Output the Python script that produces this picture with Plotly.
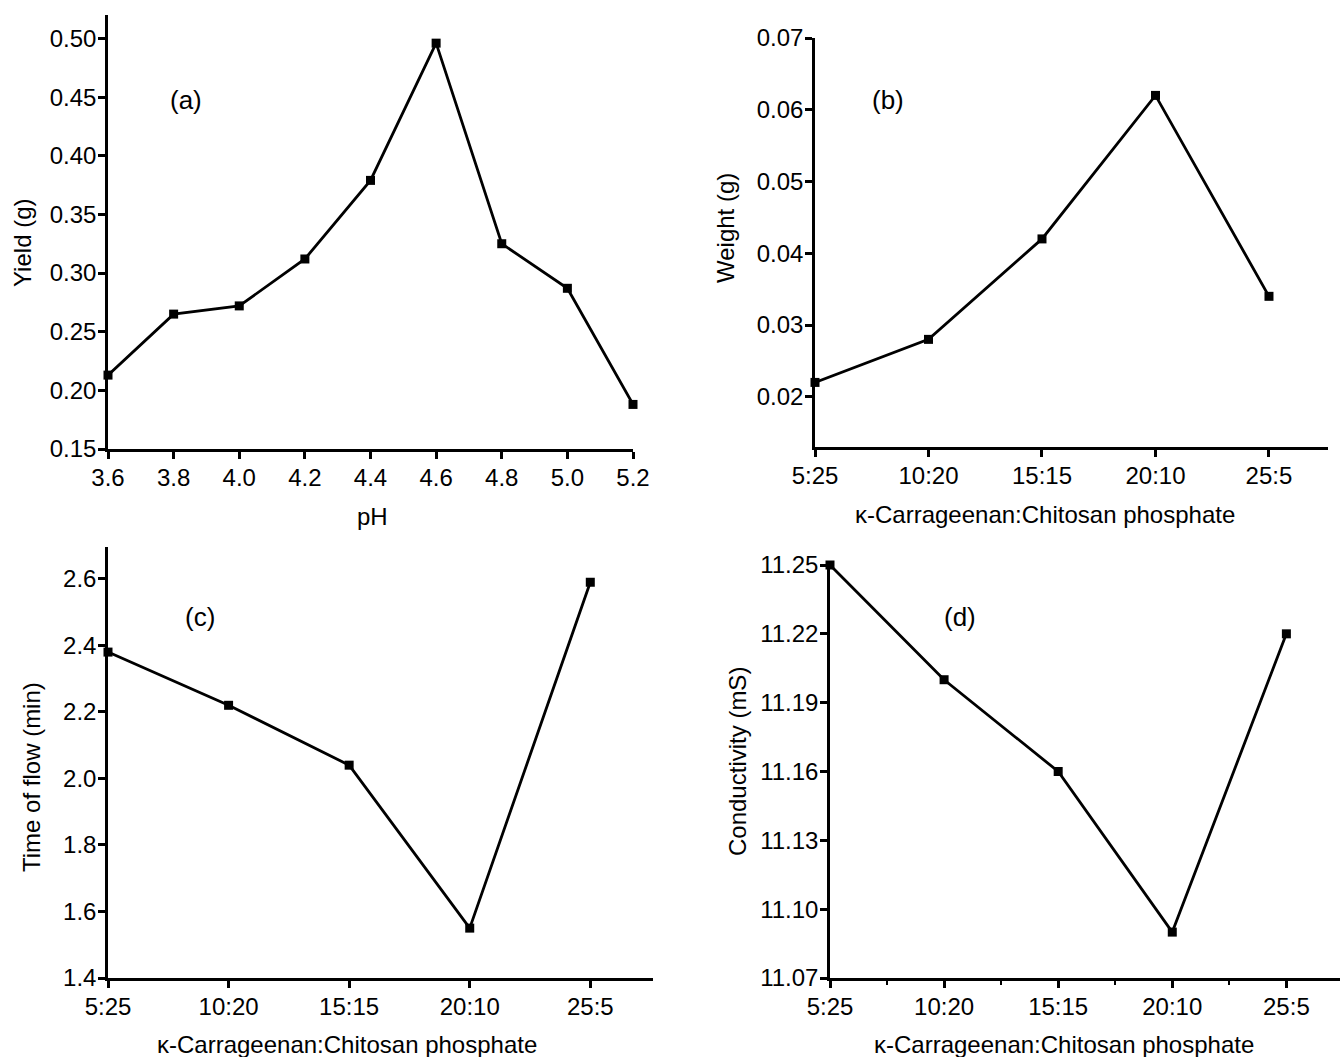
import plotly.graph_objects as go

# Data
ph_values = [3.6, 3.8, 4.0, 4.2, 4.4, 4.6, 4.8, 5.0, 5.2]
yield_g = [0.213, 0.265, 0.272, 0.312, 0.379, 0.496, 0.325, 0.287, 0.188]

ratios = ["5:25", "10:20", "15:15", "20:10", "25:5"]
weight_g = [0.022, 0.028, 0.042, 0.062, 0.034]
time_of_flow = [2.38, 2.22, 2.04, 1.55, 2.59]
conductivity = [11.25, 11.20, 11.16, 11.09, 11.22]

ph_ticks = [3.6, 3.8, 4.0, 4.2, 4.4, 4.6, 4.8, 5.0, 5.2]
weight_ticks = [0.02, 0.03, 0.04, 0.05, 0.06, 0.07]
yield_ticks = [0.15, 0.20, 0.25, 0.30, 0.35, 0.40, 0.45, 0.50]
flow_ticks = [1.4, 1.6, 1.8, 2.0, 2.2, 2.4, 2.6]
cond_ticks = [11.07, 11.10, 11.13, 11.16, 11.19, 11.22, 11.25]

W, H = 1340, 1057
FONT = "Liberation Sans, Arial, sans-serif"
FS = 24
ridx = list(range(len(ratios)))

def px(x):
    return x / W

def py(y):
    return 1 - y / H

fig = go.Figure()

line = dict(color="black", width=2.8)
marker = dict(symbol="square", size=9, color="black")

fig.add_trace(go.Scatter(x=ph_values, y=yield_g, mode="lines+markers", line=line,
                         marker=marker, xaxis="x", yaxis="y", cliponaxis=False))
fig.add_trace(go.Scatter(x=ridx, y=weight_g, mode="lines+markers", line=line,
                         marker=marker, xaxis="x2", yaxis="y2", cliponaxis=False))
fig.add_trace(go.Scatter(x=ridx, y=time_of_flow, mode="lines+markers", line=line,
                         marker=marker, xaxis="x3", yaxis="y3", cliponaxis=False))
fig.add_trace(go.Scatter(x=ridx, y=conductivity, mode="lines+markers", line=line,
                         marker=marker, xaxis="x4", yaxis="y4", cliponaxis=False))

axis_common = dict(showgrid=False, zeroline=False, showline=True, linecolor="black",
                   linewidth=2.5, ticks="outside", ticklen=7, tickwidth=2.5,
                   tickcolor="black", automargin=False,
                   tickfont=dict(family=FONT, size=FS, color="black"))

panels = [
    ((108, 633), (15, 449), [3.6, 5.2], [0.15, 0.52], ph_ticks, [f"{v:.1f}" for v in ph_ticks],
     yield_ticks, [f"{v:.2f}" for v in yield_ticks]),
    ((815, 1328), (38, 447), [0, 4.52], [0.0130, 0.070], ridx, ratios,
     weight_ticks, [f"{v:.2f}" for v in weight_ticks]),
    ((108, 653), (547, 978), [0, 4.52], [1.4, 2.696], ridx, ratios,
     flow_ticks, [f"{v:.1f}" for v in flow_ticks]),
    ((830, 1340), (565, 978), [0, 4.47], [11.07, 11.25], ridx, ratios,
     cond_ticks, [f"{v:.2f}" for v in cond_ticks]),
]

layout = dict(width=W, height=H, margin=dict(l=0, r=0, t=0, b=0),
              paper_bgcolor="white", plot_bgcolor="white", showlegend=False,
              template="none",
              font=dict(family=FONT, size=FS, color="black"))

for i, (xd, yd, xr, yr, xt, xtt, yt, ytt) in enumerate(panels):
    n = "" if i == 0 else str(i + 1)
    xa = dict(axis_common, domain=[px(xd[0]), px(xd[1])], range=xr, tickvals=xt, ticktext=xtt,
              anchor="y" + n, ticklabelstandoff=-2)
    ya = dict(axis_common, domain=[py(yd[1]), py(yd[0])], range=yr, tickvals=yt, ticktext=ytt,
              anchor="x" + n, ticklabelstandoff=-3)
    if i == 3:
        xa["minor"] = dict(ticks="outside", tickvals=[0.5, 1.5, 2.5, 3.5], ticklen=4,
                           tickwidth=2, tickcolor="black")
    layout["xaxis" + n] = xa
    layout["yaxis" + n] = ya

fig.update_layout(**layout)

ann_font = dict(family=FONT, size=FS, color="black")
lab_font = dict(family=FONT, size=26, color="black")
annotations = [
    # x titles
    dict(x=px(372), y=py(516), text="pH"),
    dict(x=px(1045), y=py(515), text="κ-Carrageenan:Chitosan phosphate"),
    dict(x=px(347), y=py(1044), text="κ-Carrageenan:Chitosan phosphate"),
    dict(x=px(1064), y=py(1044), text="κ-Carrageenan:Chitosan phosphate"),
    # y titles
    dict(x=px(22), y=py(243), text="Yield (g)", textangle=-90),
    dict(x=px(726), y=py(228), text="Weight (g)", textangle=-90),
    dict(x=px(31), y=py(777), text="Time of flow (min)", textangle=-90),
    dict(x=px(737), y=py(762), text="Conductivity (mS)", textangle=-90),
]
labels = [
    dict(x=px(186), y=py(100), text="(a)"),
    dict(x=px(888), y=py(100), text="(b)"),
    dict(x=px(200), y=py(617), text="(c)"),
    dict(x=px(960), y=py(617), text="(d)"),
]
for a in annotations:
    a.update(font=ann_font)
for a in labels:
    a.update(font=lab_font)
allann = annotations + labels
for a in allann:
    a.update(xref="paper", yref="paper", showarrow=False,
             xanchor="center", yanchor="middle")
fig.update_layout(annotations=allann)

fig.write_html("out.html")
